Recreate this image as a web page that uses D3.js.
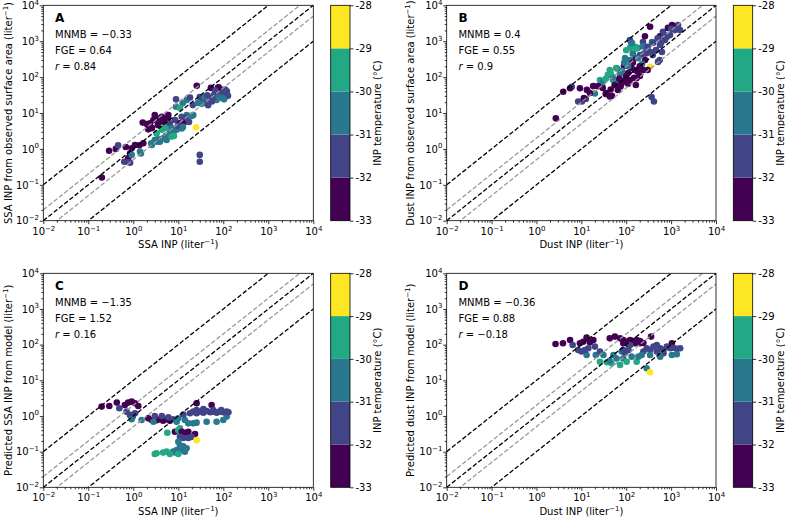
<!DOCTYPE html>
<html><head><meta charset="utf-8">
<script src="https://cdn.jsdelivr.net/npm/d3@7"></script>
<style>body{margin:0;background:#fff} text{font-family:"DejaVu Sans",sans-serif}</style>
</head><body><svg id="c" width="785" height="518"></svg>
<script>
// temperature bin centres (°C)
const P=-32.5,B=-31.5,T=-30.5,G=-29.5,Y=-28.5;

// Panel A: SSA INP (x) vs SSA INP from observed surface area (y), temp
const ssaObs = [
[0.20,0.16,P],[0.29,0.89,P],[0.41,1.0,P],[0.46,1.26,B],[0.68,1.13,P],[0.63,0.44,B],[0.77,0.55,P],
[0.85,0.75,P],[0.92,1.04,P],[1.09,1.29,P],[1.36,1.26,P],[1.41,0.84,T],[0.76,0.43,B],[0.85,0.41,B],
[0.92,0.68,T],[1.67,1.43,P],[1.48,0.75,T],[2.57,1.28,T],[3.3,1.58,T],[5.5,1.77,T],[7.7,3.0,T],
[11.9,3.7,T],[21.5,8.8,T],[1.62,5.4,P],[2.15,3.5,P],[2.35,5.2,P],[2.8,6.4,P],[3.3,7.1,P],[3.9,5.7,P],
[4.3,7.9,P],[5.1,5.2,P],[2.0,4.9,P],[2.6,3.8,P],[3.5,4.6,P],[4.6,6.8,P],[5.9,7.2,P],[3.0,8.7,P],
[6.0,8.8,P],[2.5,1.43,T],[3.0,1.77,T],[3.9,1.59,T],[4.6,1.97,T],[3.5,1.89,T],[5.3,2.3,T],[6.5,2.8,T],
[3.3,2.7,G],[4.3,3.4,G],[5.5,4.1,G],[7.1,2.2,G],[8.0,2.3,G],[5.1,3.8,G],[6.5,5.2,B],[8.5,6.4,B],
[9.2,3.4,T],[10.9,5.2,P],[14.1,5.7,P],[11.9,7.9,B],[15.4,8.8,T],[7.2,3.8,T],[9.8,4.4,B],[12.7,4.1,T],
[17.3,5.6,B],[15,7.5,B],[19.8,8.3,T],[8.9,15,T],[8.9,24,B],[12.5,18.6,T],[15.4,23,T],[18.2,27,B],
[10.9,13.8,G],[25.7,57,P],[21,16.6,B],[24.7,4.0,Y],[30,0.68,B],[30,0.44,B],[30,28,B],[35,23,B],
[41,19,B],[51,26,B],[62,32,B],[76,38,B],[94,44,B],[115,38,B],[127,30,B],[53,50,P],[76,50,P],[79,52,P],
[71,23,T],[104,24,T],[46,16.5,B],[56,21,B],[27,19,T],[85,33,B],[100,36,B],[38,28,T],[66,42,B],[120,40,B],
[60,28,B],[90,30,B],[110,45,B],[80,27,T],[95,26,T],[44,31,B],[33,18,T]
];

// Panel B: Dust INP (x) vs Dust INP from observed surface area (y), temp
const dustObs = [
[2.7,7.1,P],[3.95,39,P],[6.1,54,B],[5.6,49,P],[8.5,21,B],[10.3,21,B],[12.6,24.5,B],[9.3,49,P],
[11.4,26,P],[13.3,44,P],[18.4,56,P],[20,35,T],[15.5,36,P],[26,83,G],[30,50,P],[43,158,G],[39,115,G],
[51,83,G],[61,67,T],[30,72,T],[35,34,P],[48,30,P],[65,44,P],[79,67,P],[98,94,P],[61,176,P],[89,204,P],
[110,130,P],[156,158,P],[202,107,P],[120,83,P],[164,60,P],[72,122,T],[121,300,T],[94,340,T],[182,650,T],
[157,700,G],[121,650,G],[169,630,G],[134,890,T],[121,1080,B],[236,950,B],[290,570,B],[263,300,P],
[340,2530,P],[340,195,Y],[368,28,B],[414,21,B],[657,1840,B],[460,570,B],[565,780,B],[730,1080,B],
[945,1480,B],[1220,2040,B],[1430,2810,B],[1580,2040,B],[850,2350,P],[1050,2810,P],[565,1380,P],
[390,410,B],[510,265,B],[300,158,P],[225,230,T],[375,950,T],[625,500,B],[202,410,B],[261,1380,P],
[164,340,P],[23.5,56,P],[558,300,B],[282,462,B],[238,158,P],[169,93,P],[85,75,P],[43,29,P],[36,36,P],
[184,335,T],[238,710,T],[130,880,T],
[70,90,P],[100,110,P],[130,180,P],[150,95,P],[180,140,P],[55,60,P],[45,45,P],[75,55,P],[110,65,P],
[140,250,P],[200,200,P],[50,100,T],[80,150,T],[110,200,T],[140,450,T],[90,250,T],[45,130,G],[60,180,G],
[100,560,G],[35,90,G],[300,700,B],[400,900,B],[500,1200,B],[700,1500,B],[800,1300,B],[1000,2200,B],
[350,500,B],[250,450,B],[600,900,B]
];

// Panel C: SSA INP (x) vs predicted SSA INP from model (y), temp
const ssaModel = [
[0.198,1.83,P],[0.293,1.91,P],[0.43,2.37,P],[0.49,1.64,B],[0.65,2.03,P],[0.77,2.37,P],[0.92,2.52,P],
[1.09,2.27,P],[1.29,1.91,P],[0.71,1.32,B],[0.84,1.07,B],[0.97,0.96,B],[1.09,1.19,B],[0.92,0.81,T],
[1.53,0.77,T],[2.15,0.86,P],[2.55,0.77,P],[3.3,0.76,P],[3.9,0.81,P],[4.6,0.74,P],[5.5,0.81,P],[6.5,0.74,P],
[3.0,1.0,B],[4.3,1.0,B],[6.0,0.92,B],[7.7,0.81,B],[2.8,0.69,T],[9.2,0.69,T],[10,0.86,T],[14,0.77,T],
[16.7,0.62,T],[21.5,0.62,T],[25.5,0.65,T],[42.6,0.69,T],[71,0.69,T],[100,0.77,T],[119,0.96,T],
[25.5,2.27,P],[55,2.03,P],[13,1.1,B],
[18.2,1.19,B],[21.5,1.32,B],[25.5,1.19,B],[30,1.32,B],[36,1.24,B],[43,1.38,B],[51,1.27,B],[60,1.32,B],
[71,1.24,B],[84,1.32,B],[100,1.27,B],[119,1.32,B],[25.5,1.47,B],[36,1.57,B],[60,1.47,B],[90,1.47,B],[130,1.27,B],
[5.7,0.34,G],[8.4,0.36,P],[10,0.40,G],[10.9,0.45,G],[11.9,0.36,P],[14,0.34,P],[16.7,0.36,P],[23.5,0.31,P],
[10.9,0.26,B],[12.9,0.24,B],[16.7,0.24,B],[19.8,0.26,B],[25.5,0.21,Y],[10,0.19,T],[10.9,0.15,T],
[12.9,0.14,T],[9.2,0.11,T],[7.7,0.10,T],[11.9,0.11,T],[14,0.10,T],[15.3,0.124,T],[8.5,0.095,T],
[5.5,0.10,G],[4.6,0.094,G],[3.3,0.09,G],[6.5,0.086,G],[10,0.086,G],[3.0,0.086,G]
];

// Panel D: Dust INP (x) vs predicted dust INP from model (y), temp
const dustModel = [
[2.66,104,P],[3.9,109,P],[5.6,135,P],[6.4,98,B],[8.5,71,B],[10.1,64,B],[13.1,51,T],[9.3,109,P],
[11,121,P],[13.1,157,P],[15.5,116,P],[18.5,135,P],[20,88,B],[14.3,79,B],[12,71,B],[21,51,T],[26,64,B],
[43,150,P],[56,168,P],[73,150,P],[86,135,P],[102,121,P],[122,135,P],[144,126,P],[171,135,P],[203,126,P],
[241,111,P],[86,109,P],[111,102,P],[157,109,P],[203,109,P],[358,168,P],[1040,109,P],
[31,51,T],[26,33,G],[37,32,G],[47,30,G],[43,35,T],[52,51,T],[61,41,T],[79,64,T],[94,57,B],[112,71,B],
[132,46,T],[86,41,T],[73,27,G],[102,33,G],[171,33,G],[122,98,B],[86,71,B],[241,64,B],[286,79,B],
[340,71,B],[404,88,B],[479,98,B],[569,79,B],[676,71,B],[802,88,B],[951,79,B],[1130,82,B],[1340,76,B],
[1590,79,B],[479,64,B],[676,57,B],[1040,51,T],[1340,54,T],[570,46,T],[340,51,T],[221,51,T],[187,46,T],
[285,21.7,T],[338,16.7,Y]
];

const statsText = [["MNMB = −0.33","FGE = 0.64","0.84"],["MNMB = 0.4","FGE = 0.55","0.9"],
                   ["MNMB = −1.35","FGE = 1.52","0.16"],["MNMB = −0.36","FGE = 0.88","−0.18"]];
const panelLetters = ["A","B","C","D"];
const xLabels = ["SSA INP","Dust INP","SSA INP","Dust INP"];
const yLabels = ["SSA INP from observed surface area","Dust INP from observed surface area",
                 "Predicted SSA INP from model","Predicted dust INP from model"];
const axisExponents = [-2,-1,0,1,2,3,4];
const tempBounds = [-33,-32,-31,-30,-29,-28];
const tempColors = ['#440154','#414487','#2a788e','#22a884','#fde725'];
const blackFactors = [10,1,0.1];
const grayFactors = [2,0.5];
const cbarLabel = "INP temperature (°C)";

const datasets = [ssaObs,dustObs,ssaModel,dustModel];
// layout (pixel boxes)
const boxes = [
 {l:43.3,r:313.3,t:5.3,b:220.7,cl:330.7,cr:350,yl:31.5},
 {l:446.7,r:716,t:5.3,b:220.7,cl:733.3,cr:752.7,yl:33},
 {l:43.3,r:313.3,t:273.3,b:487.3,cl:330.7,cr:350,yl:31.5},
 {l:446.7,r:716,t:273.3,b:487.3,cl:733.3,cr:752.7,yl:33}
];

const svg = d3.select('#c');
const color = d3.scaleThreshold().domain(tempBounds.slice(1,5)).range(tempColors);
const minus = s => String(s).replace('-','−');

function supText(sel, base, sup){
  sel.text(null);
  sel.append('tspan').text(base);
  sel.append('tspan').attr('font-size','7px').attr('dy','-4.2').text(sup);
}

boxes.forEach((bx,i)=>{
  const g = svg.append('g');
  const x = d3.scaleLog().domain([1e-2,1e4]).range([bx.l,bx.r]);
  const y = d3.scaleLog().domain([1e-2,1e4]).range([bx.b,bx.t]);
  const clipId = 'clip'+i;
  svg.append('clipPath').attr('id',clipId).append('rect')
    .attr('x',bx.l).attr('y',bx.t).attr('width',bx.r-bx.l).attr('height',bx.b-bx.t);

  // points
  g.append('g').attr('clip-path',`url(#${clipId})`).selectAll('circle').data(datasets[i]).join('circle')
    .attr('cx',d=>x(d[0])).attr('cy',d=>y(d[1])).attr('r',3.3).attr('fill',d=>color(d[2]));

  // reference lines
  const lg = g.append('g').attr('clip-path',`url(#${clipId})`);
  const addLine=(k,col)=>lg.append('line')
    .attr('x1',x(1e-2)).attr('y1',y(1e-2*k)).attr('x2',x(1e4)).attr('y2',y(1e4*k))
    .attr('stroke',col).attr('stroke-width',1.3).attr('stroke-dasharray','4.6,2.1');
  grayFactors.forEach(k=>addLine(k,'#9a9a9a'));
  blackFactors.forEach(k=>addLine(k,'#000'));

  const majors = axisExponents.map(e=>Math.pow(10,e));
  const minors = x.ticks().filter(v=>Math.abs(Math.log10(v)-Math.round(Math.log10(v)))>1e-6);

  // x axis
  const xa = g.append('g').attr('transform',`translate(0,${bx.b})`)
    .call(d3.axisBottom(x).tickValues(majors).tickSize(3.5).tickPadding(3.6).tickFormat(()=>''));
  xa.selectAll('.tick text').each(function(d){supText(d3.select(this),'10',minus(Math.round(Math.log10(d))));});
  g.append('g').attr('transform',`translate(0,${bx.b})`)
    .call(d3.axisBottom(x).tickValues(minors).tickSize(2).tickFormat(()=>''));
  // y axis
  const ya = g.append('g').attr('transform',`translate(${bx.l},0)`)
    .call(d3.axisLeft(y).tickValues(majors).tickSize(3.5).tickPadding(0.8).tickFormat(()=>''));
  ya.selectAll('.tick text').each(function(d){supText(d3.select(this),'10',minus(Math.round(Math.log10(d))));});
  g.append('g').attr('transform',`translate(${bx.l},0)`)
    .call(d3.axisLeft(y).tickValues(minors).tickSize(2).tickFormat(()=>''));
  g.selectAll('.domain').remove();
  g.selectAll('.tick line').attr('stroke','#000').attr('stroke-width',0.8);
  g.selectAll('.tick text').attr('font-size','10px').attr('fill','#000').attr('font-family','DejaVu Sans');

  // frame
  g.append('rect').attr('x',bx.l).attr('y',bx.t).attr('width',bx.r-bx.l).attr('height',bx.b-bx.t)
    .attr('fill','none').attr('stroke','#000').attr('stroke-width',0.8);

  // annotations
  const ax = bx.l+11.7;
  g.append('text').attr('x',ax).attr('y',bx.t+16.5).attr('font-size','12px').attr('font-weight','bold').text(panelLetters[i]);
  g.append('text').attr('x',ax).attr('y',bx.t+32.2).attr('font-size','10px').text(statsText[i][0]);
  g.append('text').attr('x',ax).attr('y',bx.t+48.8).attr('font-size','10px').text(statsText[i][1]);
  const rt = g.append('text').attr('x',ax).attr('y',bx.t+65).attr('font-size','10px');
  rt.append('tspan').attr('font-style','italic').text('r');
  rt.append('tspan').text(' = '+statsText[i][2]);

  // axis labels
  const xl = g.append('text').attr('x',(bx.l+bx.r)/2).attr('y',bx.b+27.5).attr('text-anchor','middle').attr('font-size','10px');
  xl.append('tspan').text(xLabels[i]+' (liter');
  xl.append('tspan').attr('font-size','7px').attr('dy','-4').text('−1');
  xl.append('tspan').attr('dy','4').text(')');
  const ylx = bx.l-bx.yl, yly=(bx.t+bx.b)/2;
  const yl = g.append('text').attr('transform',`translate(${ylx},${yly}) rotate(-90)`).attr('text-anchor','middle').attr('font-size','10px');
  yl.append('tspan').text(yLabels[i]+' (liter');
  yl.append('tspan').attr('font-size','7px').attr('dy','-4').text('−1');
  yl.append('tspan').attr('dy','4').text(')');

  // colorbar
  const cy = d3.scaleLinear().domain([-33,-28]).range([bx.b,bx.t]);
  const bins = tempBounds.slice(0,5).map((v,j)=>({lo:v,hi:tempBounds[j+1],c:tempColors[j]}));
  g.append('g').selectAll('rect').data(bins).join('rect')
    .attr('x',bx.cl).attr('width',bx.cr-bx.cl).attr('y',d=>cy(d.hi)).attr('height',d=>cy(d.lo)-cy(d.hi)).attr('fill',d=>d.c);
  g.append('rect').attr('x',bx.cl).attr('y',bx.t).attr('width',bx.cr-bx.cl).attr('height',bx.b-bx.t)
    .attr('fill','none').attr('stroke','#000').attr('stroke-width',0.8);
  const ca = g.append('g').attr('transform',`translate(${bx.cr},0)`)
    .call(d3.axisRight(cy).tickValues(tempBounds).tickSize(3.5).tickPadding(2).tickFormat(d=>String(d)));
  ca.select('.domain').remove();
  ca.selectAll('.tick line').attr('stroke','#000').attr('stroke-width',0.8);
  ca.selectAll('.tick text').attr('font-size','10px').attr('fill','#000').attr('font-family','DejaVu Sans');
  g.append('text').attr('transform',`translate(${bx.cr+31},${yly}) rotate(-90)`).attr('text-anchor','middle')
    .attr('font-size','10px').text(cbarLabel);
});
</script></body></html>
